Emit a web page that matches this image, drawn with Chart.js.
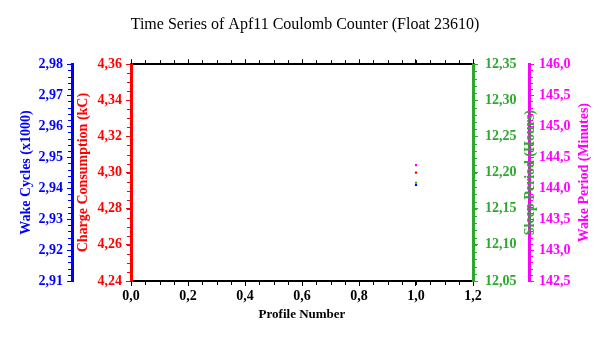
<!DOCTYPE html>
<html>
<head>
<meta charset="utf-8">
<title>Apf11 Coulomb Counter</title>
<script src="https://cdn.jsdelivr.net/npm/chart.js@4/dist/chart.umd.min.js"></script>
<style>
  html, body { margin: 0; padding: 0; background: #fff; }
  #chart { display: block; }
</style>
</head>
<body>
<canvas id="chart" width="607" height="338"></canvas>
<script>
// Time series of the Apf11 coulomb counter for float 23610: one profile so
// far, four quantities each on its own y axis (two left, two right).

const TITLE = 'Time Series of Apf11 Coulomb Counter (Float 23610)';

const profiles = [1];
const wakeCycles = [2.941];     // x1000
const chargeKC = [4.300];
const sleepHours = [12.186];
const wakeMinutes = [144.37];

const BLUE = '#0000ff';
const RED = '#ff0000';
const GREEN = '#2ca82c';
const MAGENTA = '#ff00ff';

const SERIF = '"Liberation Serif", "DejaVu Serif", serif';
Chart.defaults.font.family = SERIF;

const comma = (digits) => (value) => Number(value).toFixed(digits).replace('.', ',');

// minor tick step per scale, drawn by the minorTicks plugin
const MINOR = { x: 0.05, xTop: 0.05, yBlue: 0.002, yRed: 0.005, yGreen: 0.01, yMagenta: 0.1 };

// right-hand titles read bottom-to-top like the left ones, so they are drawn here
const RIGHT_TITLE_X = { yGreen: 57, yMagenta: 55 };

function pointSet(label, values, color, axis) {
  return {
    label,
    data: profiles.map((p, i) => ({ x: p, y: values[i] })),
    yAxisID: axis,
    backgroundColor: color,
    borderColor: color,
    borderWidth: 0,
    pointStyle: 'rect',
    pointRadius: 1.5,
    showLine: false
  };
}

function yAxis(color, min, max, step, digits, title, place, width, padding) {
  return {
    type: 'linear',
    position: place.side,
    weight: place.w,
    min, max,
    afterFit: (scale) => { scale.width = width; },
    border: { display: true, color, width: 3 },
    grid: { display: true, drawOnChartArea: false, drawTicks: true, tickLength: 5, tickColor: color, tickWidth: 1 },
    ticks: { stepSize: step, color, padding, font: { size: 14, weight: 'bold' }, callback: comma(digits) },
    title: {
      display: place.side === 'left',
      text: title,
      color,
      font: { size: 14, weight: 'bold' },
      padding: { top: 3, bottom: 0 }
    }
  };
}

const minorTicks = {
  id: 'minorTicks',
  afterDraw(chart) {
    const ctx = chart.ctx;
    ctx.save();
    ctx.lineWidth = 1;
    Object.keys(MINOR).forEach((id) => {
      const scale = chart.scales[id];
      if (!scale) return;
      const step = MINOR[id];
      const n = Math.round((scale.max - scale.min) / step);
      ctx.strokeStyle = scale.options.border.color;
      ctx.beginPath();
      for (let i = 0; i <= n; i++) {
        const p = Math.round(scale.getPixelForValue(scale.min + i * step)) + 0.5;
        if (scale.isHorizontal()) {
          const y = scale.position === 'top' ? scale.bottom : scale.top;
          const dir = scale.position === 'top' ? -1 : 1;
          ctx.moveTo(p, y);
          ctx.lineTo(p, y + dir * 4);
        } else {
          const x = scale.position === 'left' ? scale.right : scale.left;
          const dir = scale.position === 'left' ? -1 : 1;
          ctx.moveTo(x, p);
          ctx.lineTo(x + dir * 4, p);
        }
      }
      ctx.stroke();
    });
    ctx.restore();
  }
};

const rightTitles = {
  id: 'rightTitles',
  afterDraw(chart) {
    const ctx = chart.ctx;
    const area = chart.chartArea;
    Object.keys(RIGHT_TITLE_X).forEach((id) => {
      const scale = chart.scales[id];
      const opts = scale.options.title;
      ctx.save();
      ctx.translate(scale.left + RIGHT_TITLE_X[id], (area.top + area.bottom) / 2);
      ctx.rotate(-Math.PI / 2);
      ctx.fillStyle = opts.color;
      ctx.font = 'bold 14px ' + SERIF;
      ctx.textAlign = 'center';
      ctx.textBaseline = 'middle';
      ctx.fillText(opts.text, 0, 0);
      ctx.restore();
    });
  }
};

const whiteBackground = {
  id: 'whiteBackground',
  beforeDraw(chart) {
    const ctx = chart.ctx;
    ctx.save();
    ctx.fillStyle = '#fff';
    ctx.fillRect(0, 0, chart.width, chart.height);
    ctx.restore();
  }
};

new Chart(document.getElementById('chart').getContext('2d'), {
  type: 'scatter',
  data: {
    datasets: [
      pointSet('Wake Period (Minutes)', wakeMinutes, MAGENTA, 'yMagenta'),
      pointSet('Charge Consumption (kC)', chargeKC, RED, 'yRed'),
      pointSet('Sleep Period (Hours)', sleepHours, GREEN, 'yGreen'),
      pointSet('Wake Cycles (x1000)', wakeCycles, BLUE, 'yBlue')
    ]
  },
  options: {
    responsive: false,
    animation: false,
    events: [],
    layout: { padding: { left: 15, right: 12, top: 0, bottom: 12 } },
    plugins: {
      legend: { display: false },
      tooltip: { enabled: false },
      title: {
        display: true,
        text: TITLE,
        color: '#000',
        font: { size: 16, weight: 'normal' },
        padding: { top: 15, bottom: 30 }
      }
    },
    scales: {
      x: {
        type: 'linear',
        position: 'bottom',
        min: 0, max: 1.2,
        afterFit: (scale) => { scale.height = 45; },
        border: { display: true, color: '#000', width: 2 },
        grid: { display: true, drawOnChartArea: false, tickLength: 5, tickColor: '#000' },
        ticks: { stepSize: 0.2, color: '#000', padding: 2, maxRotation: 0, font: { size: 14, weight: 'bold' }, callback: comma(1) },
        title: { display: true, text: 'Profile Number', color: '#000', font: { size: 13, weight: 'bold' }, padding: { top: 0, bottom: 4 } }
      },
      xTop: {
        type: 'linear',
        position: 'top',
        min: 0, max: 1.2,
        afterFit: (scale) => { scale.height = 0; },
        border: { display: true, color: '#000', width: 2 },
        grid: { display: true, drawOnChartArea: false, tickLength: 5, tickColor: '#000' },
        ticks: { stepSize: 0.2, display: false }
      },
      yBlue: yAxis(BLUE, 2.91, 2.98, 0.01, 2, 'Wake Cycles (x1000)', { side: 'left', w: 1 }, 57, 4),
      yRed: yAxis(RED, 4.24, 4.36, 0.02, 2, 'Charge Consumption (kC)', { side: 'left', w: 0 }, 59, 4),
      yGreen: yAxis(GREEN, 12.05, 12.35, 0.05, 2, 'Sleep Period (Hours)', { side: 'right', w: 0 }, 56, 7),
      yMagenta: yAxis(MAGENTA, 142.5, 146.0, 0.5, 1, 'Wake Period (Minutes)', { side: 'right', w: 1 }, 66, 5)
    }
  },
  plugins: [whiteBackground, minorTicks, rightTitles]
});
</script>
</body>
</html>
